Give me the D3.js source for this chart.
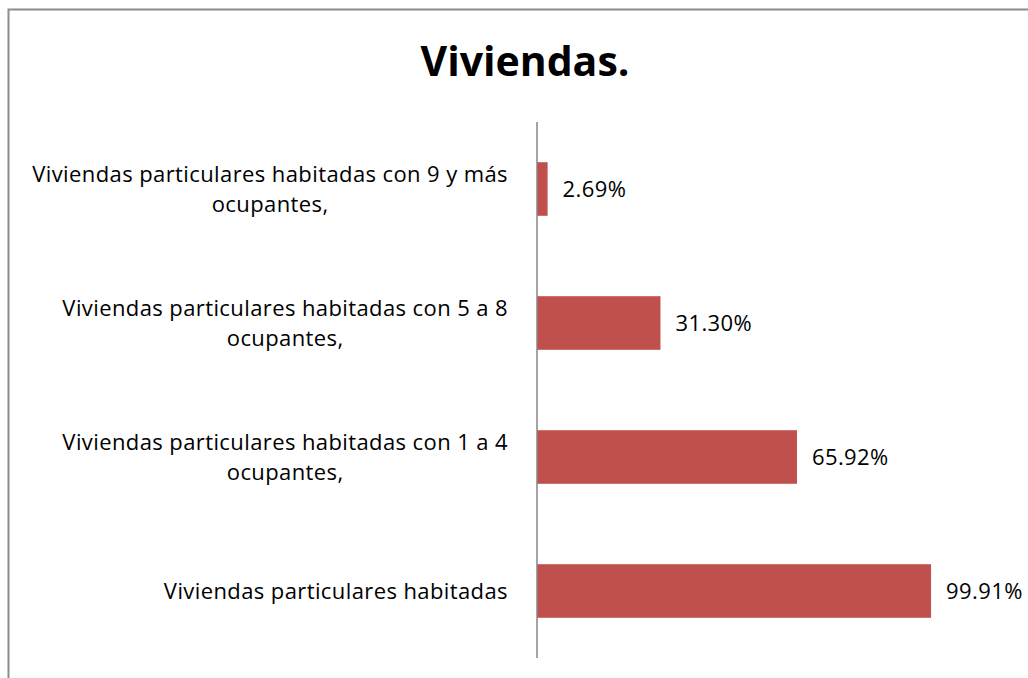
<!DOCTYPE html>
<html lang="es">
<head>
<meta charset="utf-8">
<title>Viviendas.</title>
<script src="https://d3js.org/d3.v7.min.js"></script>
<style>
body { margin: 0; background: #fff; }
svg { display: block; font-family: "Open Sans", sans-serif; }
</style>
</head>
<body>
<div id="chart"></div>
<script>
// data
var categories = [
    ["Viviendas particulares habitadas con 9 y más", "ocupantes,"],
    ["Viviendas particulares habitadas con 5 a 8", "ocupantes,"],
    ["Viviendas particulares habitadas con 1 a 4", "ocupantes,"],
    ["Viviendas particulares habitadas"]
];
var values = [2.69, 31.30, 65.92, 99.91];
var valueLabels = ["2.69%", "31.30%", "65.92%", "99.91%"];

var width = 1028, height = 678;

var svg = d3.select("#chart").append("svg")
    .attr("width", width)
    .attr("height", height);

// frame (only top and left edges are in view)
svg.append("path")
    .attr("d", "M8.5," + height + "V9.5H" + width)
    .attr("fill", "none")
    .attr("stroke", "#8c8c8c")
    .attr("stroke-width", 2);

svg.append("text")
    .attr("x", 525)
    .attr("y", 76)
    .attr("text-anchor", "middle")
    .attr("font-size", 41)
    .attr("font-weight", "bold")
    .attr("fill", "#000")
    .text("Viviendas.");

var x0 = 537;
var x = d3.scaleLinear().domain([0, 100]).range([x0, x0 + 394.4]);
var y = d3.scaleBand()
    .domain(d3.range(categories.length))
    .range([122, 658])
    .paddingInner(0.6)
    .paddingOuter(0.3);

svg.selectAll("rect.bar")
    .data(values)
    .enter().append("rect")
    .attr("class", "bar")
    .attr("x", x(0))
    .attr("y", function(d, i) { return y(i); })
    .attr("width", function(d) { return x(d) - x(0); })
    .attr("height", y.bandwidth())
    .attr("fill", "#c0504d");

// vertical axis line
svg.append("line")
    .attr("x1", x0).attr("x2", x0)
    .attr("y1", 122).attr("y2", 658)
    .attr("stroke", "#868686")
    .attr("stroke-width", 1.5);

svg.selectAll("text.val")
    .data(valueLabels)
    .enter().append("text")
    .attr("class", "val")
    .attr("x", function(d, i) { return x(values[i]) + 15; })
    .attr("y", function(d, i) { return y(i) + y.bandwidth() / 2; })
    .attr("dy", "0.35em")
    .attr("font-size", 22)
    .attr("letter-spacing", 0.4)
    .attr("fill", "#000")
    .text(function(d) { return d; });

// category labels: lines centred inside a block that is right aligned
var labelRight = 508;
var lineH = 30;
categories.forEach(function(lines, i) {
    var g = svg.append("g");
    var cy = y(i) + y.bandwidth() / 2;
    var texts = lines.map(function(s, k) {
        return g.append("text")
            .attr("y", cy + (k - (lines.length - 1) / 2) * lineH)
            .attr("dy", "0.35em")
            .attr("font-size", 22)
            .attr("letter-spacing", 0.4)
            .attr("fill", "#000")
            .attr("text-anchor", "middle")
            .text(s);
    });
    var w = d3.max(texts, function(t) { return t.node().getComputedTextLength(); });
    texts.forEach(function(t) { t.attr("x", labelRight - w / 2); });
});
</script>
</body>
</html>
